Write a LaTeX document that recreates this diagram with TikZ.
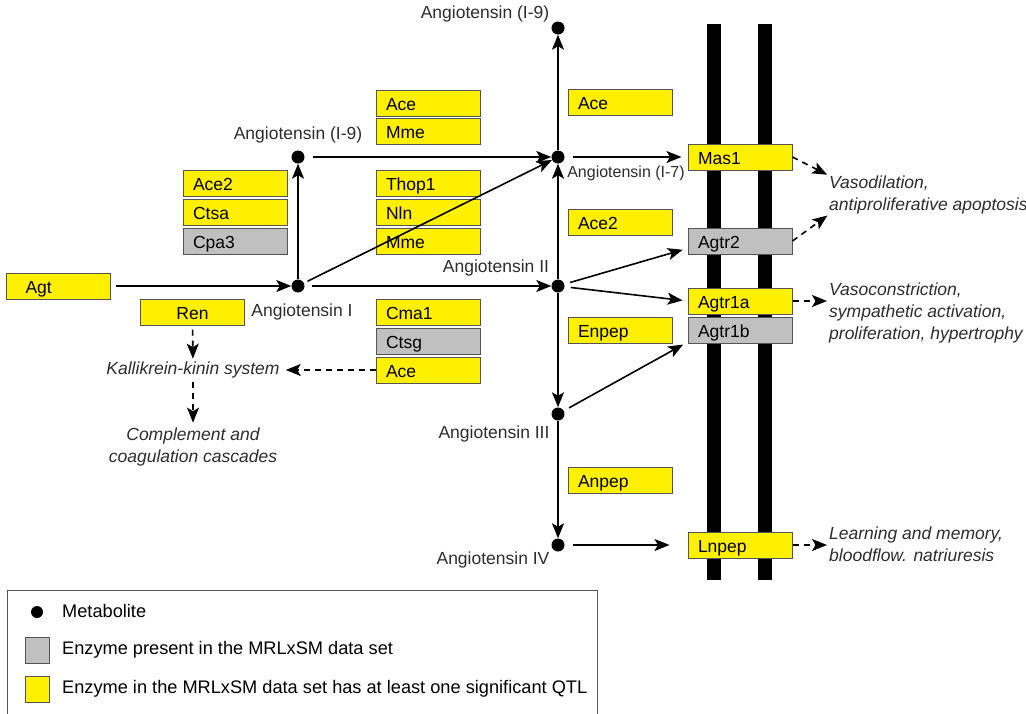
\documentclass[tikz,border=0pt]{standalone}
\usepackage{fontspec}
\setmainfont{Liberation Sans}
\usepackage{xcolor}
\usepackage{tikz}
\usetikzlibrary{arrows.meta}

\definecolor{qtlyellow}{RGB}{255,240,0}
\definecolor{setgray}{RGB}{192,192,192}
\definecolor{edgegray}{RGB}{85,85,85}
\definecolor{labelgray}{RGB}{45,45,45}

\begin{document}
\begin{tikzpicture}[x=1pt,y=-1pt,font=\fontsize{17.5}{21}\selectfont,
  enzyme/.style={draw=edgegray,line width=1pt,minimum height=26pt,text width=84pt,
    inner xsep=10pt,inner ysep=0pt,text height=14.5pt,text depth=0pt,align=left},
  qtl/.style={enzyme,fill=qtlyellow},
  present/.style={enzyme,fill=setgray},
  metab/.style={circle,fill=black,inner sep=0pt,minimum size=13pt},
  lbl/.style={text=labelgray,inner sep=0pt},
  effect/.style={text=labelgray,font=\fontsize{17.5}{22}\selectfont\itshape,align=left,inner sep=0pt},
  keybox/.style={draw=edgegray,line width=1pt,minimum width=24pt,minimum height=26pt,inner sep=0pt},
  flow/.style={line width=1.6pt,-{Stealth[length=15pt,width=12pt,inset=3.5pt]}},
  signal/.style={flow,dash pattern=on 6pt off 5pt}]

\useasboundingbox (0,0) rectangle (1026,713);

% membrane
\fill (707,24) rectangle (721,580);
\fill (758,24) rectangle (772,580);

% metabolites
\node[metab] (angI) at (298,286) {};
\node[metab] (angIX) at (298,157) {};
\node[metab] (angVII) at (558,157) {};
\node[metab] (angIXtop) at (558,28) {};
\node[metab] (angII) at (558,286) {};
\node[metab] (angIII) at (558,414) {};
\node[metab] (angIV) at (558,545) {};

\node[lbl] at (302,312) {Angiotensin I};
\node[lbl] at (298,135) {Angiotensin (I-9)};
\node[lbl] at (485,14) {Angiotensin (I-9)};
\node[lbl,font=\fontsize{16}{19}\selectfont] at (626,173) {Angiotensin (I-7)};
\node[lbl] at (496,268) {Angiotensin II};
\node[lbl] at (494,434) {Angiotensin III};
\node[lbl] at (493,560) {Angiotensin IV};

% enzymes
\node[qtl] (agt) at (58.5,286) {\hspace*{9pt}Agt};
\node[qtl,align=center] (ren) at (192.5,312) {Ren};
\node[qtl] (ace2a) at (235,183) {Ace2};
\node[qtl] (ctsa) at (235,212) {Ctsa};
\node[present] (cpa3) at (235,241) {Cpa3};
\node[qtl] (acea) at (428,103) {Ace};
\node[qtl] (mmea) at (428,131) {Mme};
\node[qtl] (thop1) at (428,183) {Thop1};
\node[qtl] (nln) at (428,212) {Nln};
\node[qtl] (mmeb) at (428,241) {Mme};
\node[qtl] (cma1) at (428,312) {Cma1};
\node[present] (ctsg) at (428,341) {Ctsg};
\node[qtl] (aceb) at (428,370) {Ace};
\node[qtl] (acec) at (620,102) {Ace};
\node[qtl] (ace2b) at (620,222) {Ace2};
\node[qtl] (enpep) at (620,330) {Enpep};
\node[qtl] (anpep) at (620,480) {Anpep};

% receptors
\node[qtl] (mas1) at (740,157) {Mas1};
\node[present] (agtr2) at (740,241) {Agtr2};
\node[qtl] (agtr1a) at (740,301) {Agtr1a};
\node[present] (agtr1b) at (740,330) {Agtr1b};
\node[qtl] (lnpep) at (740,545) {Lnpep};

% effects
\node[effect,anchor=west] (vaso) at (829,195) {Vasodilation,\\antiproliferative apoptosis};
\node[effect,anchor=west] (vasoc) at (829,313) {Vasoconstriction,\\sympathetic activation,\\proliferation, hypertrophy};
\node[effect,anchor=west] (learn) at (829,544) {Learning and memory,\\bloodflow. natriuresis};
\node[effect] (kalli) at (193,370) {Kallikrein-kinin system};
\node[effect,align=center] (compl) at (193,447) {Complement and\\coagulation cascades};

% reactions
\draw[flow,shorten <=5pt] (agt) -- (angI);
\draw[flow] (angI) -- (angIX);
\draw[flow,shorten <=8pt] (angIX) -- (angVII);
\draw[flow,shorten <=4pt] (angI) -- (angVII);
\draw[flow,shorten <=7pt] (angI) -- (angII);
\draw[flow] (angII) -- (angVII);
\draw[flow] (angVII) -- (angIXtop);
\draw[flow,shorten <=8pt,shorten >=6pt] (angVII) -- (mas1);
\draw[flow,shorten <=6pt,shorten >=5pt] (angII) -- (agtr2.188);
\draw[flow,shorten <=6pt,shorten >=5pt] (angII) -- (agtr1a.west);
\draw[flow] (angII) -- (angIII);
\draw[flow,shorten <=6pt,shorten >=5pt] (angIII) -- (agtr1b.193);
\draw[flow] (angIII) -- (angIV);
\draw[flow,shorten <=8pt,shorten >=18pt] (angIV) -- (lnpep);

% signalling
\draw[signal,shorten >=2pt] (mas1.east) -- (vaso.north west);
\draw[signal,shorten >=2pt] (agtr2.east) -- (vaso.south west);
\draw[signal,shorten >=2pt] (agtr1a.east) -- (agtr1a.east -| vasoc.west);
\draw[signal,shorten >=2pt] (lnpep.east) -- (lnpep.east -| learn.west);
\draw[signal,shorten <=4pt,shorten >=3pt] (ren) -- (kalli);
\draw[signal,shorten >=6pt] (aceb) -- (kalli);
\draw[signal,shorten <=4pt,shorten >=5pt] (kalli) -- (compl);

% legend
\draw[edgegray,line width=1pt] (7,720) |- (597,590) -- (597,720);
\node[metab,minimum size=12pt] (legmet) at (37,612) {};
\node[anchor=west,inner sep=0pt,font=\fontsize{18.2}{22}\selectfont] at (62,611) {Metabolite};
\node[keybox,fill=setgray] (leggray) at (37,650) {};
\node[anchor=west,inner sep=0pt,font=\fontsize{18.2}{22}\selectfont] at (62,650) {Enzyme present in the MRLxSM data set};
\node[keybox,fill=qtlyellow] (legyellow) at (37,689) {};
\node[anchor=west,inner sep=0pt,font=\fontsize{18.2}{22}\selectfont] at (62,689) {Enzyme in the MRLxSM data set has at least one significant QTL};

\end{tikzpicture}
\end{document}
